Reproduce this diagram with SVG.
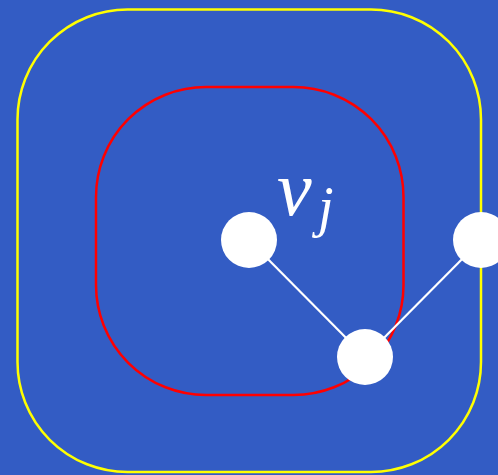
<svg xmlns="http://www.w3.org/2000/svg" width="498" height="475" viewBox="0 0 498 475">
<style>
.bound{fill:none;stroke-width:2.5}
.edge{stroke:#ffffff;stroke-width:2.2}
.node{fill:#ffffff}
.lbl{font-family:"Liberation Serif",serif;font-style:italic;fill:#ffffff}
</style>
<rect x="0" y="0" width="498" height="475" fill="#335cc4"/>
<g id="outer-boundary"><rect class="bound" x="17.5" y="9.5" width="463.5" height="462.5" rx="110" ry="110" stroke="#ffff00"/></g>
<g id="inner-boundary"><rect class="bound" x="96" y="87" width="307.5" height="308" rx="110" ry="110" stroke="#ff0000"/></g>
<g id="connectors">
<line class="edge" x1="249" y1="240" x2="365" y2="357"/>
<line class="edge" x1="365" y1="357" x2="481" y2="240"/>
</g>
<g id="node-vj"><circle class="node" cx="249" cy="240" r="28"/></g>
<g id="node-right"><circle class="node" cx="481" cy="240" r="28"/></g>
<g id="node-bottom"><circle class="node" cx="365" cy="357" r="28"/></g>
<g id="label"><text class="lbl" x="277" y="215" font-size="78">v<tspan font-size="56" x="318" y="226">j</tspan></text></g>
</svg>
